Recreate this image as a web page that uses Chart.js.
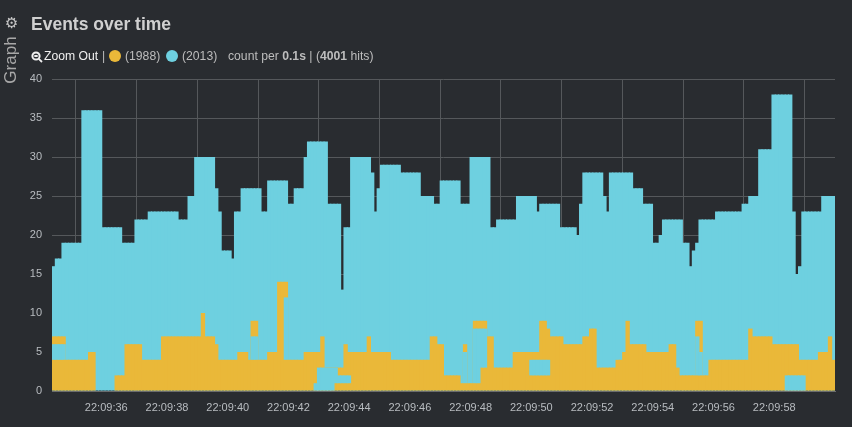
<!DOCTYPE html>
<html>
<head>
<meta charset="utf-8">
<title>Events over time</title>
<script src="https://cdn.jsdelivr.net/npm/chart.js@4"></script>
<style>
    html, body { margin: 0; padding: 0; width: 852px; height: 427px; overflow: hidden; background: #292c30; font-family: "Liberation Sans", Arial, sans-serif; }
    #chart { position: absolute; left: 0; top: 0; }
    .abs { position: absolute; white-space: nowrap; }
    #title { left: 31px; top: 14px; font-size: 17.5px; font-weight: bold; color: #d0d0d0; }
    #gear { left: 5px; top: 14px; font: bold 15px "DejaVu Sans"; color: #c8c8c8; }
    #side { left: 11px; top: 60px; font-size: 17px; color: #a8a8a8; transform: translate(-50%, -50%) rotate(-90deg); }
    #legend { left: 31px; top: 49px; font-size: 12.2px; color: #bdbdbd; line-height: 15px; height: 15px; }
    #legend > * { position: absolute; top: 0; white-space: nowrap; }
    #legend .dot { width: 12px; height: 12px; border-radius: 50%; top: 1px; }
    #legend .zoom { color: #f0f0f0; }
</style>
</head>
<body>
<canvas id="chart" width="852" height="427"></canvas>
<div class="abs" id="gear">&#9881;</div>
<div class="abs" id="side">Graph</div>
<div class="abs" id="title">Events over time</div>
<div class="abs" id="legend">
    <svg style="left:0;top:2px" width="12" height="12" viewBox="0 0 12 12"><circle cx="5" cy="5" r="3.6" fill="none" stroke="#f0f0f0" stroke-width="2"/><path d="M7.8 7.8L11 11M3.3 5h3.4" stroke="#f0f0f0" stroke-width="1.8"/></svg>
    <span class="zoom" style="left:13px">Zoom Out</span>
    <span style="left:71px">|</span>
    <span class="dot" style="left:78px;background:#EAB839"></span>
    <span style="left:94px">(1988)</span>
    <span class="dot" style="left:135px;background:#6ED0E0"></span>
    <span style="left:151px">(2013)</span>
    <span style="left:197px">count per <b>0.1s</b> | (<b>4001</b> hits)</span>
</div>
<script>
// one bin per 0.1s, the time axis below says where they sit
const blueCounts = [
    16, 17, 17, 19, 19, 19, 19, 19, 19, 36, 36, 36, 36, 36, 36, 21, 21, 21, 21, 21,
    21, 19, 19, 19, 19, 22, 22, 22, 22, 23, 23, 23, 23, 23, 23, 23, 23, 23, 22, 22,
    22, 25, 25, 30, 30, 30, 30, 30, 30, 26, 23, 18, 18, 18, 17, 23, 23, 26, 26, 26,
    26, 26, 26, 23, 23, 27, 27, 27, 27, 27, 27, 24, 24, 26, 26, 26, 30, 32, 32, 32,
    32, 32, 32, 24, 24, 24, 24, 13, 21, 21, 30, 30, 30, 30, 30, 30, 28, 23, 26, 29,
    29, 29, 29, 29, 29, 28, 28, 28, 28, 28, 28, 25, 25, 25, 25, 24, 24, 27, 27, 27,
    27, 27, 27, 24, 24, 24, 30, 30, 30, 30, 30, 30, 21, 21, 22, 22, 22, 22, 22, 22,
    25, 25, 25, 25, 25, 25, 23, 24, 24, 24, 24, 24, 24, 21, 21, 21, 21, 21, 20, 24,
    28, 28, 28, 28, 28, 28, 25, 23, 28, 28, 28, 28, 28, 28, 28, 26, 26, 26, 24, 24,
    24, 19, 19, 20, 22, 22, 22, 22, 22, 22, 19, 19, 16, 18, 19, 22, 22, 22, 22, 22,
    23, 23, 23, 23, 23, 23, 23, 23, 24, 24, 25, 25, 25, 31, 31, 31, 31, 38, 38, 38,
    38, 38, 38, 23, 15, 16, 23, 23, 23, 23, 23, 23, 25, 25, 25, 25
];

const yellowCounts = [
    7, 7, 7, 7, 4, 4, 4, 4, 4, 4, 4, 5, 5, 0, 0, 0, 0, 0, 0, 2,
    2, 2, 6, 6, 6, 6, 6, 4, 4, 4, 4, 4, 4, 7, 7, 7, 7, 7, 7, 7,
    7, 7, 7, 7, 7, 10, 7, 7, 7, 6, 4, 4, 4, 4, 4, 4, 5, 5, 5, 4,
    9, 9, 4, 4, 4, 5, 5, 5, 14, 14, 14, 4, 4, 4, 4, 4, 5, 5, 5, 5,
    5, 7, 3, 3, 3, 3, 3, 3, 6, 5, 5, 5, 5, 5, 5, 7, 5, 5, 5, 5,
    5, 5, 4, 4, 4, 4, 4, 4, 4, 4, 4, 4, 4, 4, 7, 7, 6, 6, 2, 2,
    2, 2, 2, 1, 6, 1, 1, 9, 9, 9, 9, 7, 7, 3, 3, 3, 3, 3, 3, 5,
    5, 5, 5, 5, 5, 5, 5, 9, 9, 8, 7, 7, 7, 7, 6, 6, 6, 6, 6, 6,
    7, 7, 8, 8, 3, 3, 3, 3, 3, 3, 4, 4, 5, 9, 6, 6, 6, 6, 6, 5,
    5, 5, 5, 5, 5, 5, 6, 6, 3, 2, 2, 2, 2, 2, 9, 9, 2, 2, 4, 4,
    4, 4, 4, 4, 4, 4, 4, 4, 4, 4, 8, 7, 7, 7, 7, 7, 7, 6, 6, 6,
    6, 6, 6, 6, 6, 4, 4, 4, 4, 4, 4, 5, 5, 5, 7, 4
];

// blue bars that overlap the yellow ones: bin, from, to
const overlapBins = [0, 1, 2, 3, 60, 61, 70, 79, 80, 81, 82, 83, 84, 85, 86, 87, 88, 89, 124, 127, 128, 129, 130, 144, 145, 146, 147, 148, 149, 194, 195, 221, 222, 223, 224, 225, 226];
const overlapFrom = [4, 4, 4, 4, 4, 4, 4, 0, 0, 0, 0, 0, 0, 1, 1, 1, 1, 1, 1, 1, 1, 3, 3, 2, 2, 2, 2, 2, 2, 2, 2, 0, 0, 0, 0, 0, 0];
const overlapTo = [6, 6, 6, 6, 7, 7, 12, 1, 3, 3, 3, 3, 3, 3, 2, 2, 2, 2, 5, 8, 8, 8, 8, 4, 4, 4, 4, 4, 4, 7, 5, 2, 2, 2, 2, 2, 2];

const timeTicks = [36, 38, 40, 42, 44, 46, 48, 50, 52, 54, 56, 58]; // seconds after 22:09
const timeMin = 35.2875;
const timeMax = 58.927;
const yTicks = [0, 5, 10, 15, 20, 25, 30, 35, 40];

const labels = blueCounts.map((v, i) => i);
const overlap = blueCounts.map(() => null);
overlapBins.forEach((bin, i) => { overlap[bin] = [overlapFrom[i], overlapTo[i]]; });

const barStyle = { categoryPercentage: 1, barPercentage: 1.31, grouped: false, borderWidth: 0 };
const fontFamily = '"Liberation Sans", Arial, sans-serif';

new Chart(document.getElementById('chart').getContext('2d'), {
    type: 'bar',
    data: {
        labels: labels,
        datasets: [
            { label: 'overlap', data: overlap, backgroundColor: '#6ED0E0', order: 0, ...barStyle },
            { label: '1988', data: yellowCounts, backgroundColor: '#EAB839', order: 1, ...barStyle },
            { label: '2013', data: blueCounts, backgroundColor: '#6ED0E0', order: 2, ...barStyle }
        ]
    },
    options: {
        responsive: false,
        animation: false,
        devicePixelRatio: 1,
        layout: { padding: { top: 79, right: 17, left: 0, bottom: 0 } },
        plugins: { legend: { display: false }, tooltip: { enabled: false } },
        scales: {
            x: { display: false },
            time: {
                type: 'linear',
                axis: 'x',
                position: 'bottom',
                min: timeMin,
                max: timeMax,
                afterFit: (scale) => { scale.height = 36; },
                afterBuildTicks: (scale) => { scale.ticks = timeTicks.map((v) => ({ value: v })); },
                grid: { color: '#55585b', lineWidth: 1, drawTicks: false },
                border: { color: '#6a6c6e', width: 1 },
                ticks: {
                    autoSkip: false,
                    maxRotation: 0,
                    color: '#b8bcc0',
                    padding: 10,
                    font: { family: fontFamily, size: 11 },
                    callback: (value) => '22:09:' + value
                }
            },
            y: {
                min: 0,
                max: 40,
                afterFit: (scale) => { scale.width = 52; },
                afterBuildTicks: (scale) => { scale.ticks = yTicks.map((v) => ({ value: v })); },
                grid: { color: '#55585b', lineWidth: 1, drawTicks: false },
                border: { display: false },
                ticks: {
                    color: '#b8bcc0',
                    padding: 10,
                    font: { family: fontFamily, size: 11 }
                }
            }
        }
    }
});
</script>
</body>
</html>
